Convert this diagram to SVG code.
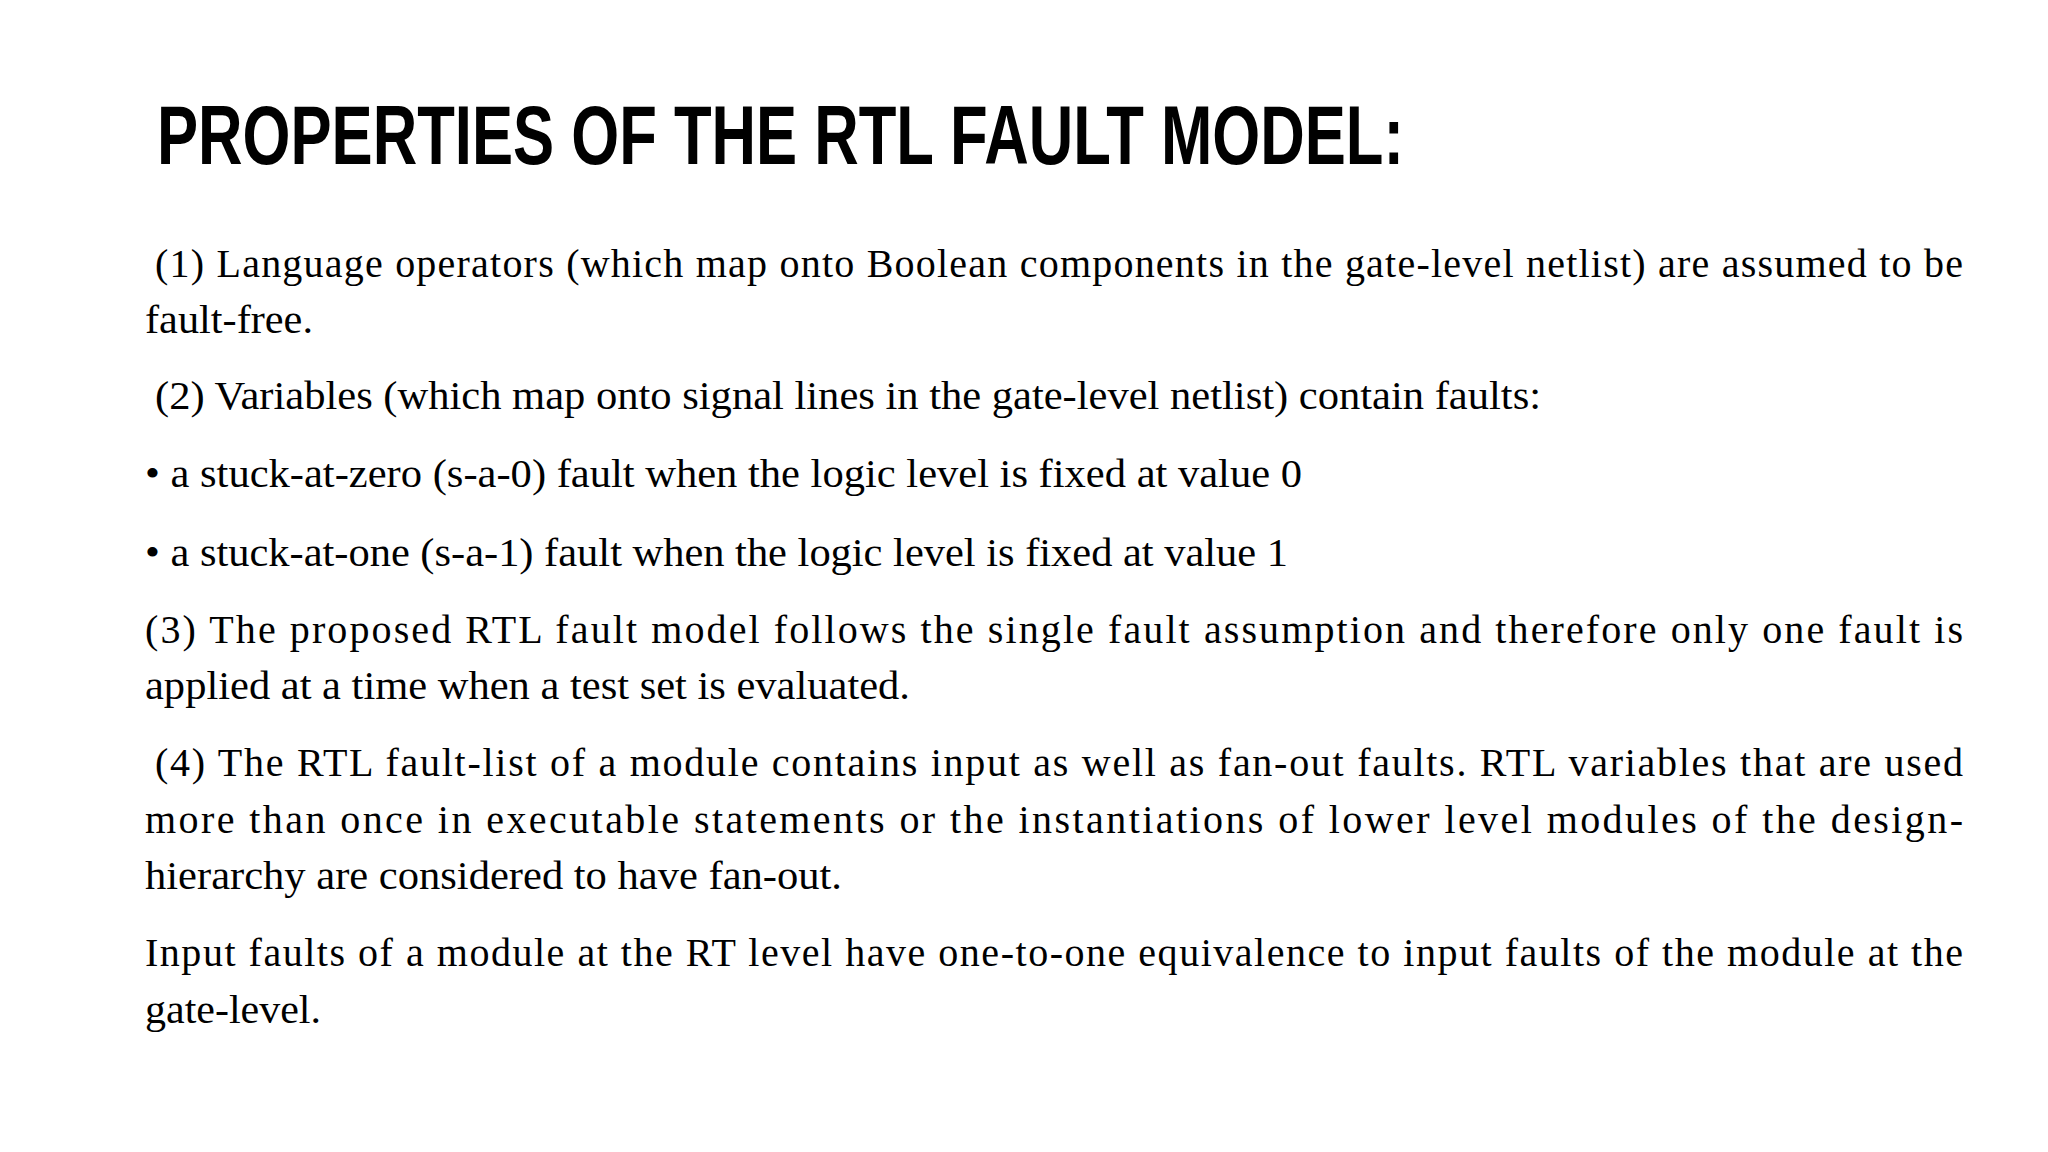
<svg xmlns="http://www.w3.org/2000/svg" width="2048" height="1152" viewBox="0 0 2048 1152">
<style>
.t{font-family:"Liberation Sans",Arial,sans-serif;font-weight:bold;font-size:84px;fill:#000}
.b{font-family:"Liberation Serif","Times New Roman",serif;font-size:40px;fill:#000}
</style>
<rect width="2048" height="1152" fill="#fff"/>
<text class="t" x="157" y="164" textLength="1247" lengthAdjust="spacingAndGlyphs">PROPERTIES OF THE RTL FAULT MODEL:</text>
<g id="body">
<text class="b" x="155" y="277" textLength="1808" lengthAdjust="spacing">(1) Language operators (which map onto Boolean components in the gate-level netlist) are assumed to be</text>
<text class="b" x="145" y="333" textLength="168" lengthAdjust="spacingAndGlyphs">fault-free.</text>
<text class="b" x="155" y="409" textLength="1386" lengthAdjust="spacingAndGlyphs">(2) Variables (which map onto signal lines in the gate-level netlist) contain faults:</text>
<text class="b" x="145" y="487" textLength="1157" lengthAdjust="spacingAndGlyphs">• a stuck-at-zero (s-a-0) fault when the logic level is fixed at value 0</text>
<text class="b" x="145" y="566" textLength="1143" lengthAdjust="spacingAndGlyphs">• a stuck-at-one (s-a-1) fault when the logic level is fixed at value 1</text>
<text class="b" x="145" y="643" textLength="1818" lengthAdjust="spacing">(3) The proposed RTL fault model follows the single fault assumption and therefore only one fault is</text>
<text class="b" x="145" y="699" textLength="765" lengthAdjust="spacingAndGlyphs">applied at a time when a test set is evaluated.</text>
<text class="b" x="155" y="776" textLength="1808" lengthAdjust="spacing">(4) The RTL fault-list of a module contains input as well as fan-out faults. RTL variables that are used</text>
<text class="b" x="145" y="833" textLength="1818" lengthAdjust="spacing">more than once in executable statements or the instantiations of lower level modules of the design-</text>
<text class="b" x="145" y="889" textLength="697" lengthAdjust="spacingAndGlyphs">hierarchy are considered to have fan-out.</text>
<text class="b" x="145" y="966" textLength="1818" lengthAdjust="spacing">Input faults of a module at the RT level have one-to-one equivalence to input faults of the module at the</text>
<text class="b" x="145" y="1023" textLength="176" lengthAdjust="spacingAndGlyphs">gate-level.</text>
</g>
</svg>
